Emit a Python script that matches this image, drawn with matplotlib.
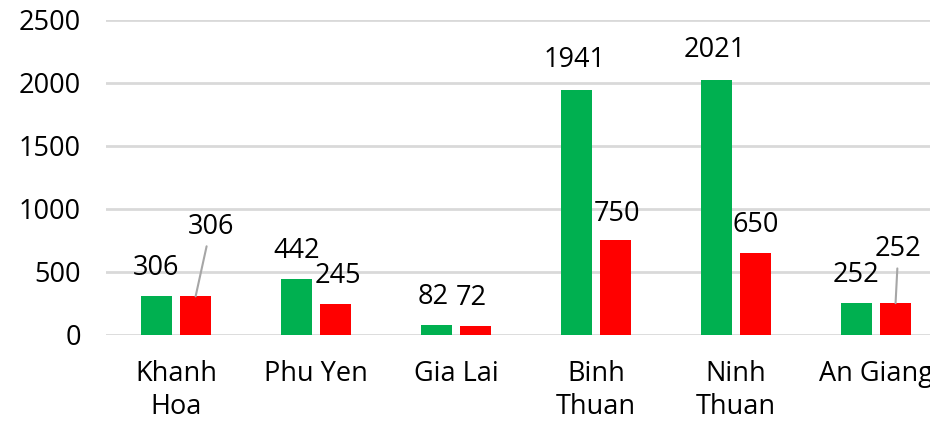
import numpy as np
import matplotlib
matplotlib.use("Agg")
import matplotlib.pyplot as plt

provinces = ["Khanh\nHoa", "Phu Yen", "Gia Lai", "Binh\nThuan", "Ninh\nThuan", "An Giang"]
green_vals = [306, 442, 82, 1941, 2021, 252]
red_vals = [306, 245, 72, 750, 650, 252]

GREEN = "#00B050"
RED = "#FF0000"
GRID = "#d9d9d9"
FS = 19.5

plt.rcParams["font.family"] = ["Open Sans", "DejaVu Sans"]

fig = plt.figure(figsize=(9.3, 4.25), dpi=100)
ax = fig.add_axes([0.114, 0.212, 0.886, 0.741])

x = np.arange(len(provinces))
w = 0.22
off = 0.14
gb = ax.bar(x - off, green_vals, w, color=GREEN, zorder=3)
rb = ax.bar(x + off, red_vals, w, color=RED, zorder=3)

ax.set_ylim(0, 2500)
ax.set_yticks(range(0, 2501, 500))
ax.set_xlim(-0.5, 5.386)
ax.set_xticks(x)
ax.set_xticklabels(provinces, fontsize=FS, linespacing=1.25)
ax.tick_params(axis="y", labelsize=FS, length=0, pad=18)
ax.tick_params(axis="x", length=0, pad=18)
for s in ax.spines.values():
    s.set_visible(False)
ax.yaxis.grid(True, color=GRID, linewidth=2, zorder=0)
ax.set_axisbelow(True)

# label offsets in points (dx, dy)
g_off = [(0, 10), (0, 10), (-2, 10), (-1, 12), (-1, 12), (0, 10)]
r_off = [(11, 40), (2, 10), (-3, 10), (1, 9), (0, 10), (2, 29)]
leader = [True, False, False, False, False, True]

for i, b in enumerate(gb):
    ax.annotate(str(green_vals[i]), (b.get_x() + b.get_width() / 2, b.get_height()),
                xytext=g_off[i], textcoords="offset points", ha="center", va="bottom",
                fontsize=FS)
for i, b in enumerate(rb):
    kw = {}
    if leader[i]:
        kw["arrowprops"] = dict(arrowstyle="-", color="#a6a6a6", lw=1.5, shrinkA=2, shrinkB=0)
    ax.annotate(str(red_vals[i]), (b.get_x() + b.get_width() / 2, b.get_height()),
                xytext=r_off[i], textcoords="offset points", ha="center", va="bottom",
                fontsize=FS, **kw)

fig.savefig("out.png", dpi=100)
